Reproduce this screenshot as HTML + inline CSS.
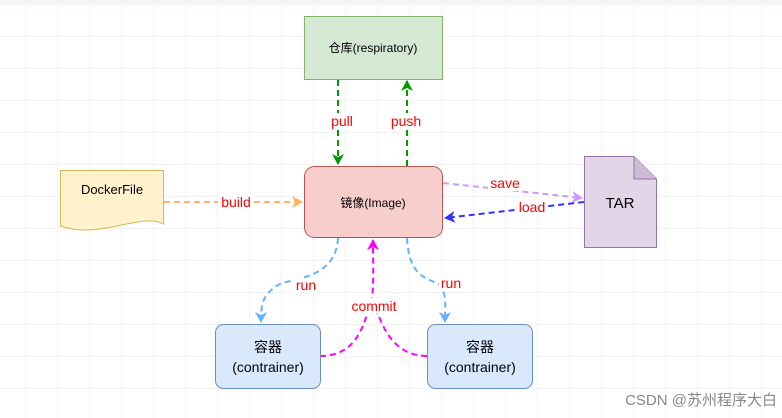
<!DOCTYPE html>
<html><head><meta charset="utf-8"><style>
html,body{margin:0;padding:0;background:#fff;}
body{width:782px;height:418px;overflow:hidden;position:relative;
background-image:linear-gradient(#f3f3f3 1px,transparent 1px),linear-gradient(90deg,#f3f3f3 1px,transparent 1px);
background-size:32px 32px;background-position:-7px 4px;}
svg{position:absolute;left:0;top:0;}
text{font-family:"Liberation Sans","Noto Sans CJK SC",sans-serif;}
</style></head><body>
<svg width="782" height="418" viewBox="0 0 782 418">
<rect x="0" y="0" width="782" height="5" fill="#f6f4f7"/>
<defs>
<marker id="ag" markerWidth="12" markerHeight="12" refX="10" refY="6" orient="auto" markerUnits="userSpaceOnUse"><path d="M0,0 L11,6 L0,12 L3,6z" fill="#009900"/></marker>
<marker id="ao" markerWidth="12" markerHeight="12" refX="10" refY="6" orient="auto" markerUnits="userSpaceOnUse"><path d="M0,0 L11,6 L0,12 L3,6z" fill="#FFB366"/></marker>
<marker id="ap" markerWidth="12" markerHeight="12" refX="10" refY="6" orient="auto" markerUnits="userSpaceOnUse"><path d="M0,0 L11,6 L0,12 L3,6z" fill="#CC99FF"/></marker>
<marker id="ab" markerWidth="12" markerHeight="12" refX="10" refY="6" orient="auto" markerUnits="userSpaceOnUse"><path d="M0,0 L11,6 L0,12 L3,6z" fill="#3333FF"/></marker>
<marker id="al" markerWidth="12" markerHeight="12" refX="10" refY="6" orient="auto" markerUnits="userSpaceOnUse"><path d="M0,0 L11,6 L0,12 L3,6z" fill="#66B2FF"/></marker>
<marker id="am" markerWidth="12" markerHeight="12" refX="10" refY="6" orient="auto" markerUnits="userSpaceOnUse"><path d="M0,0 L11,6 L0,12 L3,6z" fill="#FF00FF"/></marker>
</defs>
<g fill="none" stroke-width="2" stroke-dasharray="6,4">
<path d="M338,80 V164" stroke="#009900" marker-end="url(#ag)"/>
<path d="M407,166 V81" stroke="#009900" marker-end="url(#ag)"/>
<path d="M164,202 H302" stroke="#FFB366" marker-end="url(#ao)"/>
<path d="M443,183 L582,198" stroke="#CC99FF" marker-end="url(#ap)"/>
<path d="M584,202 L445,218" stroke="#3333FF" marker-end="url(#ab)"/>
<path d="M338,238 C336,280 290,278 278,285 C262,295 261,305 261,322" stroke="#66B2FF" marker-end="url(#al)"/>
<path d="M407,238 C409,280 430,278 440,285 C447,295 445,305 445,322" stroke="#66B2FF" marker-end="url(#al)"/>
<path d="M320,356 C360,356 364,320 372,300 C374,280 373,260 373,240" stroke="#FF00FF" marker-end="url(#am)"/>
<path d="M427,356 C390,356 380,320 373,300" stroke="#FF00FF"/>
</g>
<rect x="304.5" y="16.5" width="138" height="63" fill="#d5e8d4" stroke="#82b366"/>
<text x="373" y="52" font-size="12" text-anchor="middle" fill="#000">仓库(respiratory)</text>
<rect x="304.5" y="166.5" width="138" height="71" rx="10" fill="#f8cecc" stroke="#b85450"/>
<text x="373" y="207" font-size="12" text-anchor="middle" fill="#000">镜像(Image)</text>
<path d="M60.5,170.5 H163.5 V224 C140,212 100,240 60.5,226 Z" fill="#fff2cc" stroke="#d6b656"/>
<text x="112" y="194" font-size="13" text-anchor="middle" fill="#000">DockerFile</text>
<path d="M584.5,156.5 H634 L656.5,179 V247.5 H584.5 Z" fill="#e1d5e7" stroke="#9673a6"/>
<path d="M634,156.5 V179 H656.5" fill="#cdbcd6" stroke="#9673a6"/>
<text x="620" y="208" font-size="15" text-anchor="middle" fill="#000">TAR</text>
<rect x="215.5" y="324.5" width="105" height="64" rx="8" fill="#dae8fc" stroke="#6c8ebf"/>
<text x="268" y="352" font-size="14" text-anchor="middle" fill="#000">容器</text>
<text x="268" y="372" font-size="14" text-anchor="middle" fill="#000">(contrainer)</text>
<rect x="427.5" y="324.5" width="105" height="64" rx="8" fill="#dae8fc" stroke="#6c8ebf"/>
<text x="480" y="352" font-size="14" text-anchor="middle" fill="#000">容器</text>
<text x="480" y="372" font-size="14" text-anchor="middle" fill="#000">(contrainer)</text>
<g font-size="14" fill="#ff0000" text-anchor="middle">
<rect x="326" y="113" width="24" height="16" fill="#fff"/><text x="342" y="126">pull</text>
<rect x="389" y="113" width="36" height="16" fill="#fff"/><text x="406" y="126">push</text>
<rect x="218" y="194" width="36" height="16" fill="#fff"/><text x="236" y="207">build</text>
<rect x="488" y="176" width="34" height="15" fill="#fff"/><text x="505" y="188">save</text>
<rect x="516" y="200" width="32" height="15" fill="#fff"/><text x="532" y="212">load</text>
<rect x="294" y="278" width="24" height="15" fill="#fff"/><text x="306" y="290">run</text>
<rect x="439" y="276" width="24" height="15" fill="#fff"/><text x="451" y="288">run</text>
<rect x="348" y="298" width="52" height="15" fill="#fff"/><text x="374" y="311">commit</text>
</g>
<text x="777" y="405" font-size="15" text-anchor="end" fill="#888">CSDN @苏州程序大白</text>
</svg>
</body></html>
